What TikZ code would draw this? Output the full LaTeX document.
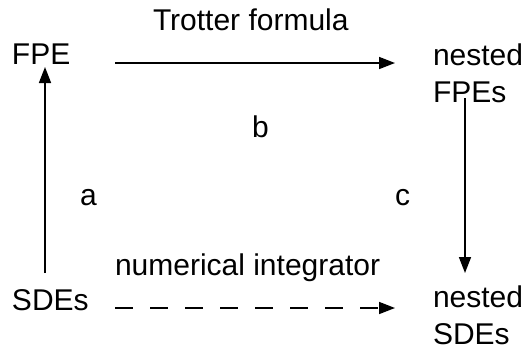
\documentclass[tikz,border=0pt]{standalone}
\usepackage{fontspec}
\setmainfont{Liberation Sans}
\usetikzlibrary{arrows.meta}
\tikzset{
  lbl/.style={anchor=base west, inner sep=0pt, outer sep=0pt, font=\fontsize{30}{37}\selectfont},
  multi/.style={lbl, align=left},
  arr/.style={line width=1.6pt, -{Triangle[length=16pt,width=12pt]}},
  darr/.style={arr, dash pattern=on 18pt off 17pt}
}
\begin{document}
\begin{tikzpicture}[x=1pt,y=-1pt]
\useasboundingbox (0,0) rectangle (523,349);
\node[lbl] (fpe) at (12,64) {FPE};
\node[lbl] (trot) at (153,30) {Trotter formula};
\node[multi] (nfpe) at (433,102) {nested\\FPEs};
\node[lbl] (sde) at (12,310) {SDEs};
\node[multi] (nsde) at (433,344) {nested\\SDEs};
\node[lbl] (num) at (115,275) {numerical integrator};
\node[lbl] (lb) at (252,137) {b};
\node[lbl] (la) at (80,205) {a};
\node[lbl] (lc) at (395,205) {c};
\draw[arr] ([shift={(33,-37)}]sde.base west) -- ([shift={(33,3)}]fpe.base west);
\draw[arr] ([shift={(103,-1)}]fpe.base west) -- ([shift={(-38,-39)}]nfpe.base west);
\draw[arr] ([shift={(32,-4)}]nfpe.base west) -- ([shift={(32,-71)}]nsde.base west);
\draw[darr] ([shift={(103,-2)}]sde.base west) -- ([shift={(-38,-36)}]nsde.base west);
\end{tikzpicture}
\end{document}
